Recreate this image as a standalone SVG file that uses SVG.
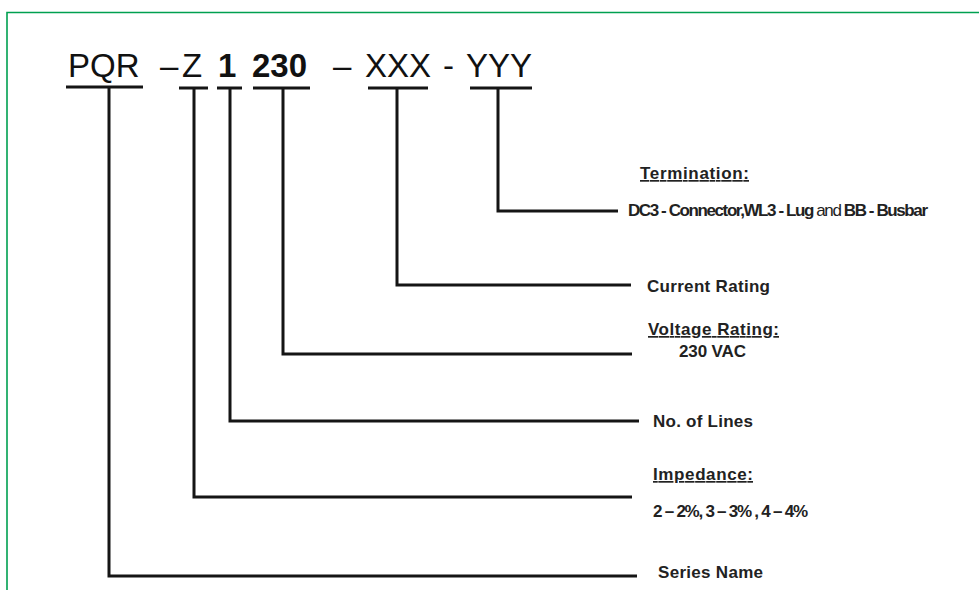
<svg xmlns="http://www.w3.org/2000/svg" width="979" height="590" viewBox="0 0 979 590">
<style>
.code{font-family:"Liberation Sans",Arial,sans-serif;font-size:33px;fill:#111}
.b{font-weight:bold}
.lbl{font-family:"Liberation Sans",Arial,sans-serif;font-weight:bold;font-size:17px;fill:#222}
.u{text-decoration:underline}
.ln{fill:none;stroke:#151515;stroke-width:3;stroke-linejoin:miter}
</style>
<rect width="979" height="590" fill="#fff"/>
<path d="M7,590 V12.5 H979" fill="none" stroke="#00a050" stroke-width="1.6"/>
<g id="code">
<text class="code" x="68" y="77">PQR</text>
<text class="code" x="160" y="77">–</text>
<text class="code" x="182" y="77">Z</text>
<text class="code b" x="218" y="77">1</text>
<text class="code b" x="252" y="77">230</text>
<text class="code" x="333" y="77">–</text>
<text class="code" x="365" y="77">XXX</text>
<text class="code" x="443" y="77">-</text>
<text class="code" x="466" y="77">YYY</text>
</g>
<g id="connectors">
<path class="ln" d="M66,87 H143 M109,87 V576 H637"/>
<path class="ln" d="M179,88 H208 M194,88 V497 H632"/>
<path class="ln" d="M217,88 H242 M230,88 V421 H639"/>
<path class="ln" d="M253,88 H310 M283,88 V354 H632"/>
<path class="ln" d="M368,88 H428 M397,88 V285 H631"/>
<path class="ln" d="M470,88 H532 M498,88 V211 H618"/>
</g>
<g id="termination">
<text class="lbl u" x="640" y="179" textLength="109">Termination:</text>
<text class="lbl" x="628" y="216" font-size="12.5" textLength="300">DC3 - Connector,WL3 - Lug <tspan font-weight="normal">and</tspan> BB - Busbar</text>
</g>
<g id="current">
<text class="lbl" x="647" y="292" textLength="123">Current Rating</text>
</g>
<g id="voltage">
<text class="lbl u" x="648" y="335" textLength="131">Voltage Rating:</text>
<text class="lbl" x="679" y="357" font-size="15" textLength="67">230 VAC</text>
</g>
<g id="lines">
<text class="lbl" x="653" y="427" textLength="100">No. of Lines</text>
</g>
<g id="impedance">
<text class="lbl u" x="653" y="480" textLength="100">Impedance:</text>
<text class="lbl" x="653" y="517" font-size="13" textLength="155">2 – 2%, 3 – 3% , 4 – 4%</text>
</g>
<g id="series">
<text class="lbl" x="658" y="578" textLength="105">Series Name</text>
</g>
</svg>
